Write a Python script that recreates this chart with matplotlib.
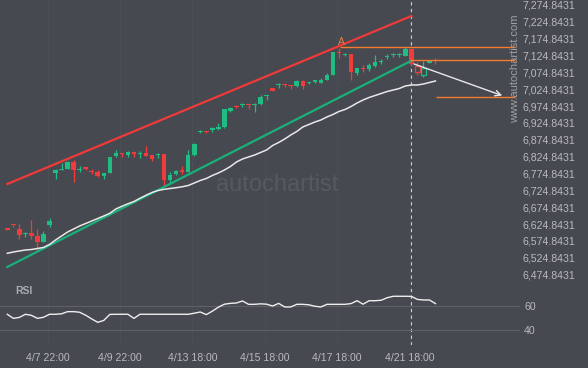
import matplotlib
matplotlib.use("Agg")
import matplotlib.pyplot as plt
import numpy as np

plt.rcParams['font.family'] = ['Liberation Sans', 'DejaVu Sans']

# candle data (4h bars)
opens = [6614.1, 6625.1, 6610.3, 6594.6, 6599.3, 6590.4, 6572.7, 6622.2,
         6775.4, 6784.3, 6788.1, 6808.9, 6785.2, 6793.2, 6782.2, 6778.4,
         6768.3, 6775.4, 6825.8, 6834.7, 6828.8, 6837.7, 6831.8, 6834.7,
         6828.8, 6829.6, 6832.6, 6755.5, 6773.3, 6785.2, 6778.4, 6829.6,
         6897.8, 6900.8, 6903.7, 6906.7, 6913.5, 6960.9, 6974.9, 6978.7,
         6979.9, 6977.8, 6979.9, 7004.5, 7029.1, 7038.0, 7041.0, 7037.1,
         7035.1, 7049.0, 7043.9, 7046.9, 7042.2, 7051.9, 7066.8, 7134.0,
         7126.9, 7129.0, 7071.8, 7086.6, 7083.6, 7094.3, 7104.4, 7120.1,
         7125.2, 7125.2, 7124.0, 7143.8, 7094.9, 7066.8, 7102.3, 7110.3]
highs = [6614.1, 6625.1, 6625.1, 6601.4, 6637.0, 6609.4, 6604.4, 6643.8,
         6787.3, 6805.0, 6812.7, 6814.8, 6797.9, 6795.0, 6788.1, 6785.2,
         6777.2, 6824.6, 6844.5, 6834.7, 6842.4, 6837.7, 6842.4, 6856.3,
         6828.8, 6834.7, 6832.6, 6780.1, 6785.2, 6797.0, 6844.5, 6864.3,
         6903.7, 6900.8, 6913.5, 6923.6, 6966.0, 6972.8, 6977.8, 6982.9,
         6979.9, 6982.9, 7007.4, 7007.4, 7029.1, 7043.9, 7041.0, 7037.1,
         7051.9, 7051.9, 7046.9, 7051.9, 7058.8, 7071.8, 7135.8, 7145.9,
         7131.1, 7129.0, 7086.6, 7096.4, 7101.4, 7126.0, 7113.3, 7129.0,
         7131.1, 7131.1, 7148.9, 7143.8, 7105.3, 7107.7, 7106.8, 7117.1]
lows = [6608.2, 6617.1, 6579.8, 6585.7, 6579.8, 6546.0, 6572.7, 6617.1,
        6757.6, 6784.3, 6788.1, 6750.5, 6778.4, 6785.2, 6772.4, 6765.3,
        6759.4, 6775.4, 6824.6, 6824.6, 6824.6, 6824.6, 6819.9, 6827.6,
        6812.7, 6820.7, 6735.7, 6745.7, 6770.3, 6772.4, 6778.4, 6827.6,
        6894.0, 6894.0, 6898.7, 6903.7, 6910.5, 6956.2, 6968.0, 6972.8,
        6966.0, 6958.0, 6977.8, 6992.6, 7019.3, 7029.1, 7032.1, 7024.4,
        7032.1, 7025.3, 7040.1, 7043.9, 7042.2, 7051.9, 7066.8, 7116.3,
        7123.1, 7051.9, 7066.8, 7074.8, 7079.5, 7089.6, 7099.4, 7114.2,
        7119.2, 7121.0, 7124.0, 7096.4, 7065.9, 7060.8, 7102.3, 7097.9]
closes = [6608.2, 6622.2, 6593.4, 6599.3, 6590.4, 6572.7, 6594.6, 6634.9,
          6785.2, 6788.1, 6808.0, 6785.2, 6788.1, 6787.3, 6779.3, 6768.3,
          6775.4, 6824.6, 6834.7, 6831.8, 6838.6, 6832.6, 6832.6, 6827.6,
          6817.8, 6831.8, 6755.5, 6770.3, 6782.2, 6779.3, 6829.6, 6861.3,
          6900.8, 6897.8, 6910.5, 6913.5, 6966.0, 6969.8, 6972.8, 6979.9,
          6977.8, 6979.9, 7002.4, 7005.4, 7019.3, 7039.2, 7038.0, 7034.2,
          7049.0, 7035.1, 7045.1, 7051.9, 7051.9, 7066.8, 7135.8, 7131.1,
          7129.0, 7074.8, 7086.6, 7083.6, 7096.4, 7104.4, 7109.1, 7121.0,
          7126.0, 7126.0, 7142.9, 7098.5, 7077.1, 7087.5, 7106.8, 7107.4]
hollow = [68, 69]

# moving average
ma = [6538.3, 6542.1, 6545.1, 6548.1, 6549.5, 6552.5, 6555.5, 6564.4,
      6577.7, 6589.5, 6601.4, 6610.3, 6619.2, 6626.6, 6634.0, 6641.4,
      6648.9, 6656.8, 6669.6, 6677.6, 6685.0, 6691.8, 6701.3, 6710.2,
      6718.5, 6724.4, 6728.0, 6730.3, 6732.7, 6735.4, 6739.2, 6746.6,
      6754.1, 6760.0, 6768.9, 6776.3, 6785.2, 6795.5, 6808.9, 6817.8,
      6823.7, 6829.6, 6837.1, 6844.5, 6857.8, 6866.7, 6877.0, 6888.9,
      6899.3, 6912.6, 6920.0, 6927.4, 6933.4, 6942.3, 6949.7, 6958.6,
      6964.5, 6973.4, 6983.8, 6992.7, 7000.1, 7006.0, 7011.9, 7017.9,
      7022.3, 7026.7, 7034.2, 7037.1, 7037.1, 7040.1, 7044.5, 7049.0]

rsi = [53.1, 49.7, 50.5, 53.1, 52.2, 49.7, 50.6, 53.1, 53.1, 53.5,
       55.3, 55.3, 54.8, 52.3, 49.2, 46.4, 48.0, 53.0, 53.1, 53.1,
       53.1, 49.7, 53.1, 53.1, 53.1, 53.1, 53.1, 53.1, 53.1, 53.1,
       53.1, 54.0, 55.0, 52.8, 55.7, 59.0, 61.5, 62.2, 62.5, 64.2,
       61.4, 61.4, 61.8, 61.5, 60.0, 62.2, 59.2, 59.2, 61.4, 61.4,
       61.0, 59.8, 59.2, 61.4, 61.4, 61.4, 61.4, 62.0, 64.4, 61.5,
       64.4, 64.4, 64.8, 66.9, 68.1, 68.1, 68.1, 68.0, 65.5, 65.0,
       65.0, 62.0]

# channel (start, end) at bar 0 and bar 67
chan_x = [0, 67]
resist = [6743.7, 7241.6]
support = [6497.7, 7109.1]

# horizontal levels: price, first bar, last bar
levels = [7151.0, 7110.5, 7002.4]
level_start = [55.2, 66.8, 71.1]
level_end = 84.2

forecast_x = [67, 82.5]
forecast_y = [7102.3, 7003.0]

now_bar = 67
xtick_pos = [6.7, 18.7, 30.7, 42.7, 54.7, 66.7]
xtick_labels = ['4/7 22:00', '4/9 22:00', '4/13 18:00', '4/15 18:00',
                '4/17 18:00', '4/21 18:00']
price_ticks = [6474.8431 + 50 * k for k in range(17)]

BG = '#46494f'
GREEN = '#1fbd84'
RED = '#f23c3c'
ORANGE = '#f47a30'
TXT = '#b8babd'

fig = plt.figure(figsize=(5.88, 3.68), dpi=100, facecolor=BG)
ax = fig.add_axes([0, 1 - 285 / 368, 520 / 588, 285 / 368])
rax = fig.add_axes([0, 1 - 345 / 368, 520 / 588, 60 / 368], sharex=ax)

for a in (ax, rax):
    a.set_facecolor(BG)
    for s in a.spines.values():
        s.set_visible(False)
    for xp in xtick_pos:
        a.axvline(xp, color='#4b4e54', lw=0.8, zorder=0)
    a.axvline(now_bar, color='#cfcfcf', lw=0.8, ls=(0, (3, 3)), zorder=1)

ax.set_xlim(-1.21, 85.02)
ax.set_ylim(6444.3, 7289.05)

# candles
idx = np.arange(len(opens))
for i in idx:
    o, h, l, c = opens[i], highs[i], lows[i], closes[i]
    col = GREEN if c >= o else RED
    bottom = min(o, c)
    height = max(abs(c - o), 2.5)
    ax.vlines(i, l, h, color=col, lw=0.9, zorder=3)
    if i in hollow:
        ax.bar(i, height, 0.75, bottom=bottom, facecolor=BG, edgecolor=col,
               lw=0.9, zorder=4)
    else:
        ax.bar(i, height, 0.75, bottom=bottom, color=col, lw=0, zorder=4)

ax.plot(chan_x, resist, color='#f03a3a', lw=1.6, zorder=5)
ax.plot(chan_x, support, color='#19b07b', lw=1.6, zorder=5)
ax.plot(idx, ma, color='#e8e8e8', lw=1.1, zorder=5)

for lv, st in zip(levels, level_start):
    ax.hlines(lv, st, level_end, color=ORANGE, lw=1.0, zorder=5)

ax.annotate('', xy=(forecast_x[1], forecast_y[1]),
            xytext=(forecast_x[0], forecast_y[0]),
            arrowprops=dict(arrowstyle='->', color='#e8e8e8', lw=1.0,
                            mutation_scale=10), zorder=6)
ax.text(55.4, highs[55] + 4, 'A', color='#e2804a', fontsize=7.5,
        ha='center', va='bottom', zorder=6)

ax.yaxis.tick_right()
ax.set_yticks(price_ticks)
ax.set_yticklabels(['{:,.4f}'.format(p) for p in price_ticks])
ax.tick_params(axis='y', length=0, pad=2, labelsize=7.6, labelcolor=TXT)
ax.tick_params(axis='x', length=0, labelbottom=False)

# RSI panel
rax.set_ylim(27.5, 77.5)
rax.axhline(60, color='#5e6267', lw=0.8, zorder=1)
rax.axhline(40, color='#5e6267', lw=0.8, zorder=1)
rax.plot(idx, rsi, color='#eeeeee', lw=1.0, zorder=3)
rax.yaxis.tick_right()
rax.set_yticks([40, 60])
rax.tick_params(axis='y', length=0, pad=3, labelsize=7.6, labelcolor=TXT)
rax.set_xticks(xtick_pos)
rax.set_xticklabels(xtick_labels)
rax.tick_params(axis='x', length=0, pad=6, labelsize=7.6, labelcolor=TXT)
rax.text(0.029, 0.9, 'RSI', transform=rax.transAxes, color='#a9acb0',
         fontsize=7.5, fontweight='bold', ha='left', va='center')

# watermarks
fig.text(515.5 / 588, 1 - 68.5 / 368, 'www.autochartist.com', rotation=90,
         color='#9da0a4', fontsize=8, ha='center', va='center')
fig.text(277.5 / 588, 1 - 185 / 368, 'autochartist', color='#56595f',
         fontsize=17, ha='center', va='center', zorder=0)

fig.savefig('out.png', dpi=100, facecolor=BG)
